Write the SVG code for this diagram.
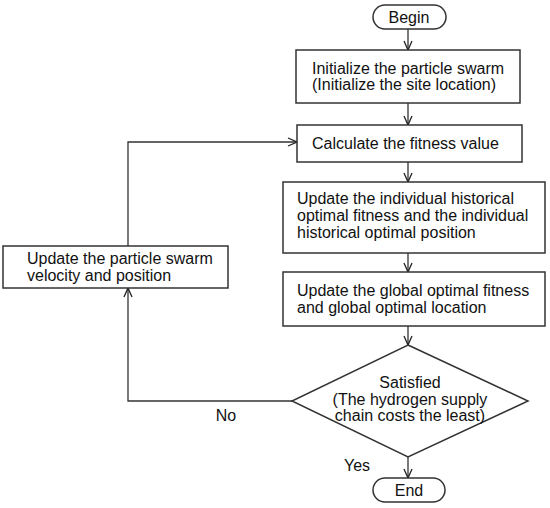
<svg xmlns="http://www.w3.org/2000/svg" width="550" height="508" viewBox="0 0 550 508">
<defs>
<marker id="arr" viewBox="0 0 10 10" refX="10" refY="5" markerWidth="10" markerHeight="10" markerUnits="userSpaceOnUse" orient="auto">
<path d="M1,1 L10,5 L1,9" fill="none" stroke="#222" stroke-width="1.3"/>
</marker>
<style>
.box{fill:#fff;stroke:#333;stroke-width:1.5}
.t{font-family:"Liberation Sans",Arial,sans-serif;font-size:16px;fill:#111}
.c{text-anchor:middle}
.ln{fill:none;stroke:#333;stroke-width:1.3}
</style>
</defs>
<rect width="550" height="508" fill="#fff"/>
<g id="connectors">
<line class="ln" x1="408" y1="29" x2="408" y2="50" marker-end="url(#arr)"/>
<line class="ln" x1="408" y1="103" x2="408" y2="125" marker-end="url(#arr)"/>
<line class="ln" x1="408" y1="162" x2="408" y2="182" marker-end="url(#arr)"/>
<line class="ln" x1="408" y1="253" x2="408" y2="272" marker-end="url(#arr)"/>
<line class="ln" x1="408" y1="326" x2="408" y2="345" marker-end="url(#arr)"/>
<line class="ln" x1="408" y1="457" x2="408" y2="478" marker-end="url(#arr)"/>
<polyline class="ln" points="292,401 128,401 128,288" marker-end="url(#arr)"/>
<polyline class="ln" points="128,246 128,142 297,142" marker-end="url(#arr)"/>
<text class="t c" x="226" y="421">No</text>
<text class="t c" x="357" y="471">Yes</text>
</g>
<g id="begin">
<rect class="box" x="373" y="5" width="73" height="24" rx="12"/>
<text class="t c" x="409" y="23">Begin</text>
</g>
<g id="init">
<rect class="box" x="296" y="50" width="224" height="53"/>
<text class="t" x="312" y="74">Initialize the particle swarm</text>
<text class="t" x="312" y="90">(Initialize the site location)</text>
</g>
<g id="calc">
<rect class="box" x="297" y="125" width="225" height="37"/>
<text class="t" x="312" y="149">Calculate the fitness value</text>
</g>
<g id="individual">
<rect class="box" x="283" y="182" width="262" height="71"/>
<text class="t" x="297" y="204">Update the individual historical</text>
<text class="t" x="297" y="221">optimal fitness and the individual</text>
<text class="t" x="297" y="238">historical optimal position</text>
</g>
<g id="global">
<rect class="box" x="283" y="272" width="262" height="54"/>
<text class="t" x="297" y="296">Update the global optimal fitness</text>
<text class="t" x="297" y="313">and global optimal location</text>
</g>
<g id="decision">
<polygon class="box" points="408,345 528,401 408,457 292,401"/>
<text class="t c" x="410" y="388">Satisfied</text>
<text class="t c" x="410" y="405">(The hydrogen supply</text>
<text class="t c" x="410" y="421">chain costs the least)</text>
</g>
<g id="update-velocity">
<rect class="box" x="3" y="246" width="225" height="42"/>
<text class="t" x="27" y="264">Update the particle swarm</text>
<text class="t" x="27" y="281">velocity and position</text>
</g>
<g id="end">
<rect class="box" x="373" y="478" width="72" height="24" rx="12"/>
<text class="t c" x="409" y="496">End</text>
</g>
</svg>
